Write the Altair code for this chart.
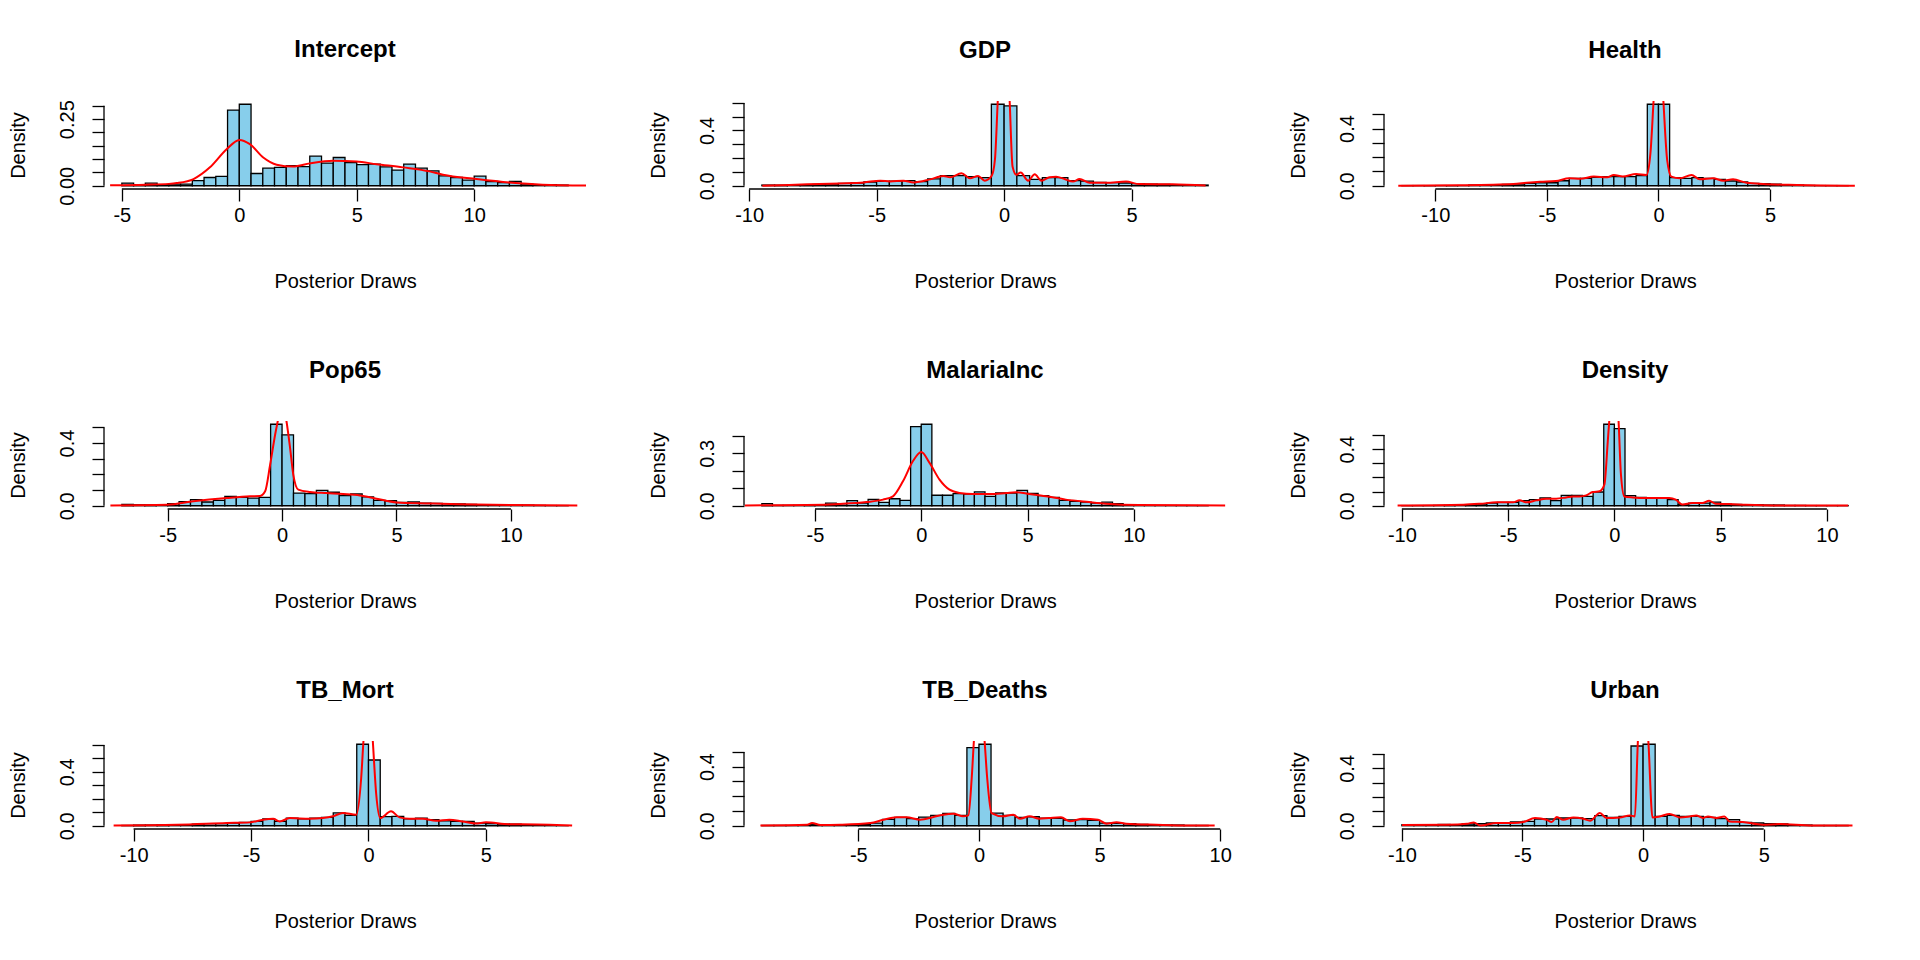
import altair as alt
import pandas as pd

# ---------------------------------------------------------------------------
# Posterior draws: histogram densities (bins of width 0.5) + kernel density
# ---------------------------------------------------------------------------
BIN_WIDTH = 0.5

intercept_start = -5.0
intercept_dens = [0.010, 0.004, 0.010, 0.004, 0.006, 0.006, 0.019, 0.031, 0.035, 0.284,
                  0.306, 0.046, 0.066, 0.069, 0.075, 0.072, 0.111, 0.085, 0.106, 0.087,
                  0.079, 0.081, 0.071, 0.059, 0.081, 0.066, 0.056, 0.037, 0.031, 0.021,
                  0.036, 0.016, 0.012, 0.016, 0.006, 0.004, 0.004, 0.0025]
intercept_kx = [-5.5, -4, -3, -2.66, -1.95, -1.25, -0.54, 0, 0.45, 1.02, 1.59, 2.29,
                3.0, 4.0, 4.99, 5.84, 6.97, 8.1, 8.67, 10.1, 11.5, 12.9, 14.8]
intercept_ky = [0.002, 0.004, 0.007, 0.010, 0.025, 0.069, 0.137, 0.172, 0.156, 0.106,
                0.079, 0.072, 0.084, 0.094, 0.091, 0.081, 0.069, 0.054, 0.041, 0.025,
                0.012, 0.004, 0.001]

gdp_start = -9.5
gdp_dens = [0.005, 0.005, 0.005, 0.007, 0.010, 0.012, 0.017, 0.020, 0.027, 0.032,
            0.034, 0.037, 0.030, 0.049, 0.073, 0.073, 0.066, 0.059, 0.590, 0.578,
            0.073, 0.046, 0.059, 0.059, 0.037, 0.034, 0.024, 0.022, 0.020, 0.015,
            0.012, 0.010, 0.007, 0.005, 0.005]
gdp_kx = [-9.48, -7.72, -6.42, -5.5, -4.86, -4.47, -3.95, -3.55, -2.9, -2.38, -2.12,
          -1.67, -1.34, -1.02, -0.76, -0.49, -0.36, -0.23, -0.1, 0.1, 0.2, 0.33, 0.48,
          0.65, 0.94, 1.2, 1.46, 1.78, 2.04, 2.37, 2.7, 2.96, 3.35, 4.0, 4.78, 5.3,
          6.6, 7.9]
gdp_ky = [0.0, 0.010, 0.017, 0.024, 0.037, 0.030, 0.037, 0.024, 0.046, 0.071, 0.061,
          0.090, 0.054, 0.071, 0.037, 0.071, 0.190, 0.680, 0.900, 0.900, 0.680, 0.140,
          0.080, 0.095, 0.037, 0.083, 0.037, 0.061, 0.066, 0.049, 0.030, 0.049, 0.022,
          0.022, 0.030, 0.012, 0.010, 0.002]

health_start = -11.5
health_dens = [0.001, 0.001, 0.001, 0.001, 0.001, 0.001, 0.005, 0.005, 0.007, 0.009,
               0.012, 0.016, 0.021, 0.021, 0.035, 0.052, 0.052, 0.059, 0.064, 0.064,
               0.064, 0.071, 0.570, 0.570, 0.057, 0.052, 0.057, 0.052, 0.045, 0.033,
               0.026, 0.017, 0.014, 0.012, 0.007, 0.005, 0.002, 0.001, 0.001, 0.001]
health_kx = [-11.66, -9, -6.5, -5.9, -5.3, -4.6, -4, -3.5, -2.9, -2.3, -2, -1.6, -1,
             -0.54, -0.36, -0.21, -0.1, 0.1, 0.21, 0.39, 0.58, 0.96, 1.48, 1.85, 2.45,
             2.9, 3.34, 3.94, 4.69, 6.2, 8.8]
health_ky = [0.0, 0.003, 0.012, 0.021, 0.028, 0.033, 0.052, 0.049, 0.064, 0.059, 0.075,
             0.064, 0.082, 0.075, 0.228, 0.620, 0.900, 0.900, 0.620, 0.180, 0.064, 0.052,
             0.075, 0.045, 0.052, 0.035, 0.045, 0.021, 0.012, 0.005, 0.0]

pop65_start = -7.0
pop65_dens = [0.009, 0.006, 0.006, 0.006, 0.013, 0.026, 0.039, 0.024, 0.034, 0.060,
              0.054, 0.049, 0.054, 0.520, 0.452, 0.081, 0.077, 0.098, 0.086, 0.064,
              0.075, 0.056, 0.034, 0.032, 0.021, 0.024, 0.017, 0.015, 0.013, 0.011,
              0.009, 0.006, 0.004, 0.006, 0.004, 0.004, 0.002, 0.001, 0.001]
pop65_kx = [-7.5, -5.03, -3.87, -2.41, -1.4, -0.96, -0.74, -0.52, -0.3, -0.16, 0, 0.17,
            0.35, 0.49, 0.71, 1.22, 1.95, 2.67, 3.4, 4.13, 5, 6.3, 7.76, 9.94, 12.9]
pop65_ky = [0.002, 0.006, 0.028, 0.049, 0.060, 0.062, 0.092, 0.263, 0.456, 0.560, 0.670,
            0.560, 0.370, 0.199, 0.103, 0.088, 0.081, 0.075, 0.066, 0.045, 0.021, 0.015,
            0.009, 0.004, 0.002]

malaria_start = -7.5
malaria_dens = [0.012, 0.002, 0.002, 0.002, 0.002, 0.006, 0.015, 0.012, 0.029, 0.015,
                0.037, 0.019, 0.040, 0.031, 0.454, 0.467, 0.060, 0.060, 0.069, 0.067,
                0.079, 0.054, 0.073, 0.073, 0.088, 0.071, 0.058, 0.048, 0.031, 0.025,
                0.021, 0.015, 0.021, 0.012, 0.006, 0.004, 0.001, 0.001, 0.001, 0.001,
                0.001, 0.001]
malaria_kx = [-8.3, -5.4, -3.83, -2.58, -1.8, -1.33, -0.86, -0.39, 0, 0.39, 0.86, 1.33,
              1.8, 2.43, 3.2, 4.0, 4.46, 5.09, 5.87, 6.8, 7.9, 8.69, 10.25, 14.3]
malaria_ky = [0.002, 0.004, 0.010, 0.021, 0.035, 0.054, 0.140, 0.256, 0.308, 0.246,
              0.150, 0.092, 0.073, 0.067, 0.067, 0.073, 0.077, 0.067, 0.054, 0.035,
              0.021, 0.012, 0.004, 0.002]

density_start = -10.0
density_dens = [0.001, 0.001, 0.001, 0.002, 0.002, 0.005, 0.007, 0.012, 0.019, 0.024,
                0.024, 0.036, 0.043, 0.055, 0.036, 0.073, 0.073, 0.066, 0.097, 0.576,
                0.545, 0.071, 0.059, 0.055, 0.055, 0.043, 0.007, 0.019, 0.019, 0.026,
                0.012, 0.009, 0.007, 0.007, 0.005, 0.005, 0.002, 0.002, 0.001, 0.001,
                0.001, 0.001]
density_kx = [-10.2, -7.1, -6.3, -5.55, -4.77, -4.46, -4.14, -3.67, -3.2, -2.74, -2.27,
              -1.95, -1.64, -1.33, -1.02, -0.7, -0.47, -0.31, -0.23, -0.1, 0.1, 0.19,
              0.31, 0.47, 0.86, 1.49, 2.11, 2.58, 2.89, 3.2, 3.67, 4.14, 4.46, 4.77,
              5.4, 6.18, 7.74, 11.0]
density_ky = [0.002, 0.007, 0.014, 0.024, 0.024, 0.038, 0.024, 0.038, 0.050, 0.050,
              0.059, 0.066, 0.066, 0.073, 0.097, 0.102, 0.149, 0.457, 0.620, 0.800,
              0.800, 0.620, 0.220, 0.066, 0.059, 0.055, 0.055, 0.055, 0.043, 0.008,
              0.019, 0.019, 0.036, 0.014, 0.012, 0.007, 0.002, 0.002]

tbmort_start = -10.5
tbmort_dens = [0.002, 0.005, 0.005, 0.007, 0.007, 0.007, 0.012, 0.015, 0.015, 0.020,
               0.025, 0.032, 0.050, 0.032, 0.057, 0.052, 0.057, 0.062, 0.095, 0.077,
               0.605, 0.488, 0.067, 0.070, 0.052, 0.057, 0.045, 0.037, 0.032, 0.032,
               0.020, 0.015, 0.012, 0.012, 0.005, 0.002, 0.002, 0.001]
tbmort_kx = [-10.85, -8.16, -6.04, -5.05, -4.49, -4.06, -3.78, -3.35, -2.5, -1.94, -1.51,
             -1.09, -0.52, -0.31, -0.21, -0.1, 0.1, 0.18, 0.33, 0.5, 0.96, 1.32, 1.74,
             2.31, 2.87, 3.44, 4.0, 4.57, 5.0, 5.99, 6.55, 8.67]
tbmort_ky = [0.002, 0.007, 0.020, 0.025, 0.045, 0.052, 0.032, 0.057, 0.052, 0.057, 0.070,
             0.095, 0.082, 0.356, 0.640, 0.850, 0.850, 0.640, 0.232, 0.057, 0.107, 0.062,
             0.052, 0.052, 0.037, 0.045, 0.032, 0.017, 0.025, 0.012, 0.012, 0.002]

tbdeaths_start = -9.0
tbdeaths_dens = [0.002, 0.002, 0.002, 0.005, 0.007, 0.005, 0.005, 0.007, 0.009, 0.018,
                 0.043, 0.057, 0.048, 0.059, 0.070, 0.084, 0.070, 0.529, 0.552, 0.086,
                 0.070, 0.057, 0.061, 0.052, 0.050, 0.039, 0.041, 0.036, 0.018, 0.016,
                 0.014, 0.009, 0.007, 0.005, 0.005, 0.002, 0.002]
tbdeaths_kx = [-9.06, -7.12, -6.92, -6.57, -5.75, -4.5, -3.96, -3.41, -3.0, -2.44, -1.89,
               -1.48, -1.06, -0.66, -0.44, -0.3, -0.2, -0.1, 0.1, 0.22, 0.34, 0.52, 1.0,
               1.42, 1.7, 2.1, 2.5, 2.9, 3.4, 3.77, 4.3, 4.94, 5.28, 5.7, 6.1, 7.35, 8.7,
               9.77]
tbdeaths_ky = [0.002, 0.007, 0.018, 0.005, 0.007, 0.018, 0.041, 0.057, 0.057, 0.041,
               0.059, 0.075, 0.082, 0.064, 0.070, 0.325, 0.600, 0.780, 0.780, 0.600,
               0.325, 0.086, 0.064, 0.075, 0.048, 0.064, 0.048, 0.052, 0.057, 0.030,
               0.048, 0.041, 0.014, 0.023, 0.014, 0.007, 0.002, 0.002]

urban_start = -10.0
urban_dens = [0.007, 0.007, 0.007, 0.009, 0.007, 0.012, 0.014, 0.019, 0.021, 0.026,
              0.030, 0.047, 0.047, 0.054, 0.054, 0.049, 0.070, 0.058, 0.065, 0.556,
              0.568, 0.065, 0.072, 0.065, 0.065, 0.058, 0.049, 0.042, 0.023, 0.019,
              0.014, 0.012, 0.007, 0.005, 0.002, 0.002, 0.002]
urban_kx = [-9.99, -8.13, -7.3, -7.02, -6.75, -6.06, -5.37, -4.96, -4.48, -4.0, -3.79,
            -3.58, -3.31, -2.89, -2.48, -2.2, -1.79, -1.52, -0.96, -0.55, -0.34, -0.21,
            -0.1, 0.1, 0.21, 0.39, 0.69, 1.1, 1.52, 1.93, 2.2, 2.48, 2.69, 3.03, 3.37,
            3.58, 4.13, 4.96, 5.65, 7.02, 8.68]
urban_ky = [0.005, 0.007, 0.014, 0.023, 0.002, 0.019, 0.019, 0.026, 0.054, 0.042, 0.026,
            0.061, 0.042, 0.058, 0.049, 0.035, 0.089, 0.054, 0.058, 0.072, 0.065, 0.610,
            0.800, 0.800, 0.610, 0.058, 0.065, 0.082, 0.058, 0.065, 0.072, 0.054, 0.065,
            0.054, 0.065, 0.030, 0.026, 0.007, 0.012, 0.002, 0.002]

# axis ticks (R style: only some y labels are printed)
ticks_05 = [0, 0.1, 0.2, 0.3, 0.4, 0.5]
ticks_06 = [0, 0.1, 0.2, 0.3, 0.4, 0.5, 0.6]

panels = [
    dict(name='Intercept', start=intercept_start, dens=intercept_dens,
         kx=intercept_kx, ky=intercept_ky,
         yticks=[0, 0.05, 0.1, 0.15, 0.2, 0.25, 0.3], ylab=[0, 0.25], yfmt='.2f',
         xticks=[-5, 0, 5, 10]),
    dict(name='GDP', start=gdp_start, dens=gdp_dens, kx=gdp_kx, ky=gdp_ky,
         yticks=ticks_06, ylab=[0, 0.4], yfmt='.1f', xticks=[-10, -5, 0, 5]),
    dict(name='Health', start=health_start, dens=health_dens, kx=health_kx, ky=health_ky,
         yticks=ticks_05, ylab=[0, 0.4], yfmt='.1f', xticks=[-10, -5, 0, 5]),
    dict(name='Pop65', start=pop65_start, dens=pop65_dens, kx=pop65_kx, ky=pop65_ky,
         yticks=ticks_05, ylab=[0, 0.4], yfmt='.1f', xticks=[-5, 0, 5, 10]),
    dict(name='MalariaInc', start=malaria_start, dens=malaria_dens,
         kx=malaria_kx, ky=malaria_ky,
         yticks=[0, 0.1, 0.2, 0.3, 0.4], ylab=[0, 0.3], yfmt='.1f', xticks=[-5, 0, 5, 10]),
    dict(name='Density', start=density_start, dens=density_dens,
         kx=density_kx, ky=density_ky,
         yticks=ticks_05, ylab=[0, 0.4], yfmt='.1f', xticks=[-10, -5, 0, 5, 10]),
    dict(name='TB_Mort', start=tbmort_start, dens=tbmort_dens, kx=tbmort_kx, ky=tbmort_ky,
         yticks=ticks_06, ylab=[0, 0.4], yfmt='.1f', xticks=[-10, -5, 0, 5]),
    dict(name='TB_Deaths', start=tbdeaths_start, dens=tbdeaths_dens,
         kx=tbdeaths_kx, ky=tbdeaths_ky,
         yticks=ticks_05, ylab=[0, 0.4], yfmt='.1f', xticks=[-5, 0, 5, 10]),
    dict(name='Urban', start=urban_start, dens=urban_dens, kx=urban_kx, ky=urban_ky,
         yticks=ticks_05, ylab=[0, 0.4], yfmt='.1f', xticks=[-10, -5, 0, 5]),
]

W, H = 482, 88
FONT = 'Liberation Sans'
LW = 1.3


def make_panel(p):
    n = len(p['dens'])
    bins = pd.DataFrame({'x': [p['start'] + BIN_WIDTH * i for i in range(n)],
                         'd': p['dens']})
    bins['x2'] = bins['x'] + BIN_WIDTH
    bins['base'] = 0.0
    curve = pd.DataFrame({'x': p['kx'], 'd': p['ky']})

    lo, hi = bins['x'].min(), bins['x2'].max()
    span = hi - lo
    top = max(p['dens'])
    xs = alt.Scale(domain=[lo - 0.04 * span, hi + 0.04 * span], nice=False, zero=False)
    ys = alt.Scale(domain=[-0.04 * top, 1.04 * top], nice=False, zero=False)

    shown = ','.join(str(v) for v in p['ylab'])
    xax = alt.Axis(values=p['xticks'], title='Posterior Draws', domain=False, grid=False,
                   tickSize=12, labelPadding=4, labelFlush=False, labelOverlap=False,
                   labelExpr="'' + datum.value",
                   minExtent=36, maxExtent=36, titlePadding=46)
    yax = alt.Axis(values=p['yticks'], title='Density', domain=False, grid=False,
                   tickSize=12, labelAngle=270, labelAlign='center',
                   labelBaseline='bottom', labelPadding=15, labelOverlap=False,
                   labelExpr=f"indexof([{shown}], datum.value) >= 0 ? "
                             f"format(datum.value, '{p['yfmt']}') : ''",
                   minExtent=45, maxExtent=45, titlePadding=31)

    bars = alt.Chart(bins).mark_rect(fill='#87CEEB', stroke='black', strokeWidth=LW).encode(
        x=alt.X('x:Q', scale=xs, axis=xax),
        x2='x2:Q',
        y=alt.Y('d:Q', scale=ys, axis=yax),
        y2='base:Q',
    )
    kde = alt.Chart(curve).mark_line(color='red', strokeWidth=2, clip=True,
                                     interpolate='monotone').encode(
        x=alt.X('x:Q', scale=xs, axis=xax),
        y=alt.Y('d:Q', scale=ys, axis=yax),
    )
    # R draws axis lines only between the first and last tick
    xline = alt.Chart(pd.DataFrame({'x': [p['xticks'][0]], 'x2': [p['xticks'][-1]]})
                      ).mark_rule(color='black', strokeWidth=LW).encode(
        x=alt.X('x:Q', scale=xs, axis=xax), x2='x2:Q', y=alt.value(H))
    yline = alt.Chart(pd.DataFrame({'d': [p['yticks'][0]], 'd2': [p['yticks'][-1]]})
                      ).mark_rule(color='black', strokeWidth=LW).encode(
        y=alt.Y('d:Q', scale=ys, axis=yax), y2='d2:Q', x=alt.value(0))

    return alt.layer(bars, kde, xline, yline).properties(
        width=W, height=H,
        title=alt.TitleParams(text=p['name'], fontSize=24, fontWeight='bold', font=FONT,
                              color='black', anchor='middle', frame='group',
                              baseline='alphabetic', offset=19),
    )


chart = alt.concat(
    *[make_panel(p) for p in panels],
    columns=3,
    spacing={'row': 232, 'column': 158},
    bounds='flush',
).properties(
    padding={'left': 0, 'top': 29, 'right': 10, 'bottom': 10},
).configure_view(
    strokeWidth=0
).configure_axis(
    labelFont=FONT, titleFont=FONT, labelFontSize=20, titleFontSize=20,
    labelColor='black', titleColor='black', tickColor='black', tickWidth=LW,
    titleFontWeight='normal',
)

chart.save("out.html", embed_options={"renderer": "svg", "actions": False})
